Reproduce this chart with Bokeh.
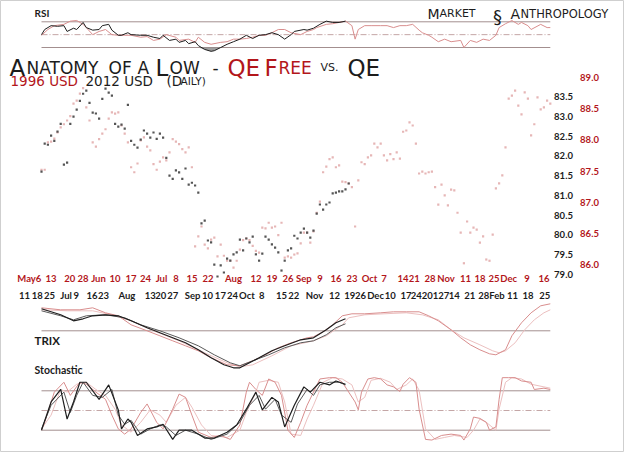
from bokeh.plotting import figure
from bokeh.models import Range1d, Label
from bokeh.embed import file_html
from bokeh.resources import INLINE
from bokeh.core.properties import value

# ---------------- data ----------------
# daily US dollar index, one value per trading day
usd_2012 = [81.60, 82.31, 82.28, 82.51, 82.38, 82.61, 82.81, 81.78, 81.83, 82.81,
            82.99, 83.17, 83.39, 83.57, 83.65, 83.34, 83.09, 83.07, 82.94, 83.44,
            83.70, 83.60, 83.52, 82.81, 82.74, 82.79, 82.69, 83.29, 82.38, 82.28,
            82.21, 82.41, 82.64, 82.56, 82.46, 82.59, 82.43, 82.56, 82.46, 81.95,
            81.50, 81.42, 81.63, 81.58, 81.42, 81.68, 81.27, 81.32, 81.25, 81.07,
            80.29, 80.36, 79.86, 79.81, 79.25, 78.95, 79.23, 79.05, 79.40, 79.35,
            79.51, 79.56, 79.88, 79.61, 79.91, 79.81, 79.96, 79.51, 79.35, 79.53,
            79.96, 79.88, 79.76, 79.68, 79.56, 79.10, 79.35, 79.61, 79.66, 79.98,
            79.91, 80.06, 80.16, 80.06, 79.93, 80.11, 80.54, 80.77, 80.64, 80.77,
            80.82, 81.05, 81.07, 81.10, 81.10, 81.15, 81.30]

usd_1996 = [87.52, 87.52, 87.96, 87.97, 88.02, 88.12, 88.20, 88.25, 88.31, 88.38,
            88.58, 88.63, 88.74, 88.83, 88.52, 88.31, 87.96, 87.89, 88.01, 88.10,
            88.17, 88.34, 88.44, 88.42, 88.44, 88.23, 88.10, 87.96, 87.56, 87.48,
            87.62, 87.99, 88.04, 87.89, 87.83, 87.61, 87.52, 87.65, 87.72, 87.67,
            87.80, 88.01, 87.97, 87.93, 87.85, 87.80, 87.88, 87.56, 86.29, 86.45,
            86.61, 86.32, 86.26, 86.40, 86.43, 86.13, 86.32, 86.14, 86.06, 86.06,
            85.95, 86.06, 86.24, 86.39, 86.42, 86.39, 86.30, 86.22, 86.19, 86.59,
            86.58, 86.67, 86.59, 86.61, 86.47, 86.67, 86.11, 86.13, 86.11, 86.16,
            86.18, 86.34, 86.51, 86.51, 86.35, 86.53, 86.83, 87.01, 87.48, 87.57,
            87.69, 87.72, 87.56, 87.59, 87.33, 87.32, 87.30, 87.24, 86.61, 87.35,
            87.64, 87.61, 87.72, 87.75, 87.94, 87.88, 87.94, 87.75, 87.67, 87.77,
            87.69, 87.80, 87.70, 88.13, 88.15, 88.28, 88.23, 87.94, 87.46, 87.49,
            87.46, 87.48, 87.49, 87.24, 86.96, 87.28, 87.11, 86.95, 87.20, 87.19,
            86.83, 86.51, 86.02, 86.69, 86.51, 86.59, 86.56, 86.35, 86.45, 86.08,
            86.06, 86.48, 87.22, 87.30, 87.43, 87.88, 88.66, 88.71, 88.79, 88.55,
            88.41, 88.76, 88.66, 88.07, 88.25, 88.68, 88.49, 88.52, 88.63, 88.58]

# RSI
rsi_2012_day = [0, 1, 3, 5, 7, 8, 10, 11, 13, 14, 16, 18, 19, 21, 22, 24, 25, 27, 28, 31,
                33, 35, 37, 38, 40, 42, 43, 45, 46, 48, 49, 51, 53, 54, 56, 58, 60, 62, 64, 66,
                68, 70, 72, 74, 76, 78, 79, 82, 83, 85, 87, 89, 91, 93, 95]
rsi_2012 = [50, 58, 64, 63, 64, 55, 60, 58, 69, 61, 57, 58, 64, 66, 57, 49, 49, 53, 50, 49,
            49, 46, 44, 49, 41, 43, 38, 41, 36, 39, 33, 27, 24, 25, 30, 35, 39, 43, 49, 44,
            49, 50, 53, 50, 43, 50, 55, 58, 57, 60, 66, 71, 69, 69, 71]
rsi_1996_day = [0, 2, 4, 7, 9, 11, 13, 14, 16, 18, 20, 22, 24, 26, 28, 31, 33, 35, 37, 39,
                42, 43, 46, 48, 49, 51, 53, 56, 58, 60, 62, 64, 66, 68, 70, 72, 74, 76, 78, 81,
                83, 85, 86, 89, 91, 93, 95, 97, 98, 99, 101, 103, 106, 108, 110, 112, 114, 116,
                118, 119, 121, 122, 124, 126, 128, 131, 132, 134, 136, 138, 140, 142, 143, 145,
                147, 149, 150, 152, 153, 156, 158, 159]
rsi_1996 = [49, 58, 64, 66, 71, 72, 66, 61, 50, 55, 58, 50, 49, 49, 49, 46, 47, 41, 43, 50,
            46, 41, 43, 38, 46, 38, 35, 38, 39, 43, 43, 44, 46, 49, 49, 53, 58, 58, 53, 50,
            55, 58, 61, 66, 67, 69, 71, 64, 43, 58, 64, 64, 64, 64, 61, 64, 64, 66,
            57, 53, 49, 46, 39, 43, 39, 41, 30, 41, 38, 43, 41, 49, 61, 67,
            72, 66, 69, 64, 58, 66, 61, 61]
rsi_levels = [30, 70]
rsi_mid = 50

# TRIX and its signal line
trix_2012_day = [0, 6, 10, 13, 16, 20, 24, 28, 33, 37, 41, 45, 49, 53, 57, 60, 62, 65, 68, 72,
                 76, 81, 85, 89, 92, 95]
trix_2012 = [0.11, 0.08, 0.05, 0.06, 0.075, 0.08, 0.075, 0.05, 0.015, -0.01, -0.035, -0.06,
             -0.095, -0.135, -0.17, -0.185, -0.185, -0.16, -0.135, -0.10, -0.075, -0.045,
             -0.035, 0.005, 0.04, 0.06]
trix_2012_sig_day = [0, 6, 10, 14, 20, 26, 31, 37, 43, 49, 54, 59, 62, 66, 71, 76, 81, 85, 89, 92, 95]
trix_2012_sig = [0.10, 0.075, 0.055, 0.075, 0.08, 0.065, 0.03, 0.0, -0.035, -0.075, -0.12,
                 -0.16, -0.175, -0.15, -0.12, -0.085, -0.06, -0.05, -0.02, 0.015, 0.035]
trix_1996_day = [0, 6, 12, 16, 20, 24, 28, 33, 37, 41, 45, 49, 53, 58, 62, 66, 70, 74, 78, 83,
                 85, 88, 91, 94, 97, 101, 106, 110, 114, 118, 121, 124, 128, 131, 134, 137,
                 140, 142, 145, 147, 150, 153, 156, 159]
trix_1996 = [0.115, 0.105, 0.105, 0.115, 0.09, 0.075, 0.03, 0.0, -0.025, -0.05, -0.075, -0.10,
             -0.135, -0.17, -0.175, -0.15, -0.12, -0.085, -0.06, -0.035, -0.03, -0.005, 0.03,
             0.075, 0.085, 0.085, 0.09, 0.095, 0.095, 0.095, 0.075, 0.05, 0.005, -0.035,
             -0.07, -0.095, -0.115, -0.12, -0.095, -0.025, 0.04, 0.09, 0.125, 0.135]
trix_1996_sig_day = [0, 8, 16, 22, 28, 35, 43, 51, 58, 62, 66, 72, 78, 85, 89, 94, 96, 101, 107,
                     114, 119, 124, 128, 132, 137, 141, 143, 145, 148, 151, 154, 157, 159]
trix_1996_sig = [0.105, 0.10, 0.10, 0.08, 0.05, 0.0, -0.05, -0.11, -0.16, -0.18, -0.17, -0.125,
                 -0.075, -0.05, -0.025, 0.03, 0.065, 0.08, 0.085, 0.09, 0.08, 0.055, 0.005,
                 -0.035, -0.07, -0.10, -0.11, -0.10, -0.06, 0.005, 0.055, 0.09, 0.105]

# Stochastic %K and %D
stk_2012_day = [0, 3, 6, 8, 10, 12, 14, 18, 21, 24, 25, 27, 28, 30, 33, 36, 38, 41, 43, 47,
                51, 54, 58, 61, 64, 67, 69, 72, 74, 76, 79, 82, 84, 87, 90, 92, 95]
stk_2012 = [20, 63, 82, 37, 63, 93, 93, 67, 89, 51, 22, 37, 32, 12, 22, 25, 29, 6, 20, 20,
            8, 8, 17, 28, 52, 78, 51, 70, 63, 25, 58, 86, 78, 93, 89, 95, 90]
std_2012_day = [0, 3, 7, 9, 11, 13, 16, 19, 22, 24, 26, 28, 31, 34, 37, 39, 42, 45, 49, 53,
                58, 62, 65, 68, 70, 73, 75, 78, 80, 83, 85, 87, 90, 93, 95]
std_2012 = [22, 58, 78, 47, 73, 93, 73, 70, 82, 43, 29, 35, 14, 22, 28, 25, 12, 20, 14, 6,
            14, 32, 58, 73, 52, 67, 43, 32, 60, 82, 73, 89, 93, 93, 89]
stk_1996_day = [0, 1, 4, 7, 9, 12, 14, 17, 20, 22, 24, 26, 28, 31, 33, 36, 38, 41, 43, 45,
                47, 49, 53, 56, 59, 62, 64, 65, 67, 69, 71, 73, 75, 77, 79, 81, 83, 85, 87, 90,
                92, 94, 96, 98, 99, 100, 102, 104, 106, 108, 110, 112, 113, 115, 117, 118, 120,
                122, 125, 128, 131, 132, 134, 135, 137, 139, 140, 142, 143, 144, 146, 148, 150,
                153, 154, 157, 159]
stk_1996 = [20, 32, 78, 93, 73, 93, 90, 78, 67, 43, 22, 14, 22, 47, 60, 32, 22, 52, 75, 70,
            43, 17, 9, 12, 6, 28, 78, 93, 82, 73, 98, 93, 73, 20, 9, 32, 58, 78, 98, 100,
            100, 93, 78, 63, 51, 78, 98, 100, 98, 89, 86, 79, 90, 100, 93, 52, 6,
            5, 12, 14, 12, 5, 22, 40, 38, 32, 20, 25, 67, 100, 100, 100, 95,
            93, 82, 84, 82]
std_1996_day = [0, 3, 6, 8, 11, 14, 17, 20, 23, 25, 28, 31, 34, 37, 39, 42, 45, 47, 50, 53,
                58, 62, 64, 67, 68, 71, 74, 76, 78, 81, 83, 85, 88, 91, 94, 97, 99, 101, 103,
                106, 109, 111, 114, 116, 118, 120, 123, 126, 129, 133, 135, 137, 139, 142, 143,
                145, 147, 150, 153, 157, 159]
std_1996 = [22, 43, 82, 78, 90, 93, 82, 73, 52, 28, 17, 32, 51, 43, 32, 58, 70, 55, 28, 12,
            9, 20, 47, 78, 93, 96, 93, 63, 14, 12, 37, 58, 93, 100, 98, 89, 63, 70, 96,
            99, 93, 82, 89, 98, 81, 22, 6, 9, 12, 9, 20, 37, 32, 20, 52,
            93, 100, 98, 90, 86, 84]
stoch_levels = [20, 80]
stoch_mid = 50

# date labels (trading-day positions)
ticks_1996_day = [-3.8, 3, 8.8, 13, 17.8, 23, 28, 32.5, 37.5, 42, 47, 52, 60, 67, 72, 77, 82,
                  87, 92, 97, 102.5, 107, 113, 116.5, 121.4, 126.4, 132.5, 137, 141.4, 146,
                  151.7, 157]
ticks_1996_label = ["May6", "13", "20", "28", "Jun", "10", "17", "24", "Jul", "8", "15", "22",
                    "Aug", "12", "19", "26", "Sep", "9", "16", "23", "Oct", "7", "14", "21",
                    "28", "Nov", "11", "18", "25", "Dec", "9", "16"]
ticks_2012_day = [-5.3, -1.3, 2.5, 7.7, 10.9, 15.8, 19.4, 26.7, 34, 37.3, 41, 47.2, 51.9, 55.9,
                  59.7, 64.2, 68.8, 75, 78.8, 85.3, 91.6, 96.3, 99.7, 104.4, 109, 113.9, 121.4,
                  129, 133.8, 140.6, 147.2, 152, 157.3]
ticks_2012_label = ["11", "18", "25", "Jul", "9", "16", "23", "Aug", "13", "20", "27", "Sep",
                    "10", "17", "24", "Oct", "8", "15", "22", "Nov", "12", "19", "26", "Dec",
                    "10", "17", "2420127", "14", "21", "28Feb", "11", "18", "25"]
axis_2012_ticks = [79.0, 79.5, 80.0, 80.5, 81.0, 81.5, 82.0, 82.5, 83.0, 83.5]
axis_1996_ticks = [86.0, 86.5, 87.0, 87.5, 88.0, 88.5, 89.0]

# ---------------- layout / styles ----------------
W, H = 624, 452
TOP, BOTTOM = 8, 460          # page rows of the plot frame
DAY_PX, ORIGIN_PX = 3.2, 41   # pixels per trading day, first day offset
RED = "#b3161b"
INK = "#1c1c1c"
REF = "#a38f8f"
REF_DASH = "#c4a6a6"
DARK1, DARK2 = "#1e1e1e", "#5a5a5a"
PINK1, PINK2 = "#d98e8e", "#ecc0c0"


def band(v1, y1, v2, y2):
    k = (v2 - v1) / (y1 - y2)
    return Range1d(v1 - (BOTTOM - y1) * k, v1 + (y1 - TOP) * k)


x0 = -ORIGIN_PX / DAY_PX
p = figure(width=W, height=H, output_backend="svg", toolbar_location=None,
           x_range=Range1d(x0, x0 + W / DAY_PX), y_range=band(79.0, 282, 83.5, 104),
           x_axis_location=None, y_axis_location=None, min_border=0)
p.grid.visible = False
p.outline_line_color = "#cfcfcf"
p.background_fill_color = "white"
p.border_fill_color = "white"
p.extra_y_ranges = {
    "p96": band(86.0, 272, 89.0, 85),
    "rsi": band(30, 55, 70, 29.3),
    "trix": band(0.0, 338.3, 0.1, 318.3),
    "stoch": band(20, 437.7, 80, 398.3),
    "px": Range1d(BOTTOM, TOP),
}
p.extra_x_ranges = {"px": Range1d(8, 8 + W)}

span0, span1 = 0, len(usd_1996) - 1

# ---- RSI panel ----
p.segment(x0=[span0] * 2, x1=[span1] * 2, y0=rsi_levels, y1=rsi_levels,
          line_color=REF, line_width=1, y_range_name="rsi")
p.segment(x0=[span0], x1=[span1], y0=[rsi_mid], y1=[rsi_mid], line_color=REF_DASH,
          line_width=1, line_dash="6 2 1 2", y_range_name="rsi")
p.varea(x=rsi_2012_day, y1=[min(v, rsi_levels[0]) for v in rsi_2012],
        y2=[rsi_levels[0]] * len(rsi_2012), fill_color="#8c8c8c", fill_alpha=0.85,
        y_range_name="rsi")
p.line(rsi_1996_day, rsi_1996, line_color=PINK1, line_width=1, y_range_name="rsi")
p.line(rsi_2012_day, rsi_2012, line_color=DARK1, line_width=1, y_range_name="rsi")

# ---- price dots ----
p.scatter(list(range(len(usd_1996))), usd_1996, marker="square", size=2.2,
          fill_color="#e6b6b6", line_color=None, y_range_name="p96")
p.scatter(list(range(len(usd_2012))), usd_2012, marker="square", size=2.2,
          fill_color="#555555", line_color=None)

# ---- TRIX panel ----
p.segment(x0=[span0], x1=[span1], y0=[0], y1=[0], line_color=REF, line_width=1,
          y_range_name="trix")
p.line(trix_1996_sig_day, trix_1996_sig, line_color=PINK2, line_width=1, y_range_name="trix")
p.line(trix_1996_day, trix_1996, line_color=PINK1, line_width=1, y_range_name="trix")
p.line(trix_2012_sig_day, trix_2012_sig, line_color=DARK2, line_width=1, y_range_name="trix")
p.line(trix_2012_day, trix_2012, line_color=DARK1, line_width=1.2, y_range_name="trix")

# ---- Stochastic panel ----
p.segment(x0=[span0] * 2, x1=[span1] * 2, y0=stoch_levels, y1=stoch_levels,
          line_color=REF, line_width=1, y_range_name="stoch")
p.segment(x0=[span0], x1=[span1], y0=[stoch_mid], y1=[stoch_mid], line_color=REF_DASH,
          line_width=1, line_dash="6 2 1 2", y_range_name="stoch")
p.line(std_1996_day, std_1996, line_color=PINK2, line_width=1, y_range_name="stoch")
p.line(stk_1996_day, stk_1996, line_color=PINK1, line_width=1, y_range_name="stoch")
p.line(std_2012_day, std_2012, line_color=DARK2, line_width=1, y_range_name="stoch")
p.line(stk_2012_day, stk_2012, line_color=DARK1, line_width=1.2, y_range_name="stoch")

# ---- date label rows ----
TICK_FONT = value("Lato")
p.text(x=ticks_1996_day, y=[286] * len(ticks_1996_day), text=ticks_1996_label,
       text_font=TICK_FONT, text_font_style="bold", text_font_size="9.5px",
       text_color=RED, text_align="center", text_baseline="middle", y_range_name="px")
p.text(x=ticks_2012_day, y=[303] * len(ticks_2012_day), text=ticks_2012_label,
       text_font=TICK_FONT, text_font_style="bold", text_font_size="9.5px",
       text_color=INK, text_align="center", text_baseline="middle", y_range_name="px")

# ---- price scales on the right ----
p.text(x=[571] * len(axis_2012_ticks), y=axis_2012_ticks,
       text=[f"{v:.1f}" for v in axis_2012_ticks], text_font=TICK_FONT,
       text_font_style="bold", text_font_size="9.5px", text_color=INK,
       text_align="center", text_baseline="middle", x_range_name="px")
p.text(x=[597] * len(axis_1996_ticks), y=axis_1996_ticks,
       text=[f"{v:.1f}" for v in axis_1996_ticks], text_font=TICK_FONT,
       text_font_style="bold", text_font_size="9.5px", text_color=RED,
       text_align="center", text_baseline="middle", x_range_name="px", y_range_name="p96")


def add_label(x, y, text, size, color=INK, font="DejaVu Sans", style="normal",
              align="left", baseline="alphabetic"):
    p.add_layout(Label(x=x, y=y, x_range_name="px", y_range_name="px", text=text,
                       text_font=font, text_font_size=f"{size}px", text_font_style=style,
                       text_color=color, text_align=align, text_baseline=baseline))


# panel titles
add_label(42, 20, "RSI", 10, font="Lato", style="bold", baseline="middle")
add_label(42, 348, "TRIX", 11.5, font="Lato", style="bold", baseline="middle")
add_label(42, 377, "Stochastic", 10.5, font="Lato", style="bold", baseline="middle")

# main title (small caps)
add_label(17, 75, "A", 23)
add_label(34, 75, "NATOMY", 17)
add_label(116, 75, "OF", 17)
add_label(145, 75, "A", 17)
add_label(163, 75, "L", 23)
add_label(177, 75, "OW", 17)
add_label(220, 75, "-", 17)
add_label(235, 75, "QE", 23, RED)
add_label(272, 75, "F", 23, RED)
add_label(286, 75, "REE", 17, RED)
add_label(328, 75, "VS.", 11)
add_label(355, 75, "QE", 23)

# subtitle
add_label(18, 88.5, "1996 USD", 13.5, RED)
add_label(93, 88.5, "2012 USD", 13.5)
add_label(174, 88.5, "(D", 13.5)
add_label(188, 88.5, "AILY)", 10.5)

# logo
add_label(435, 21, "M", 14)
add_label(447, 21, "ARKET", 11)
add_label(505, 24, "§", 18, align="center")
add_label(518, 21, "A", 14)
add_label(528, 21, "NTHROPOLOGY", 11.5)

open("out.html", "w").write(file_html(p, INLINE))
